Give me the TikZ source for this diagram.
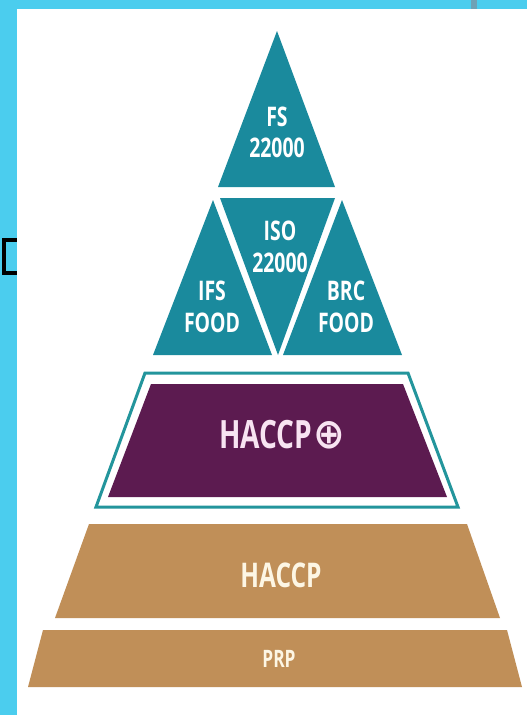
\documentclass[tikz,border=0pt]{standalone}
\usepackage{fontspec}
\setmainfont{Open Sans}
\newfontfamily\symfont{DejaVu Sans}

\definecolor{frameblue}{HTML}{4BCDEE}
\definecolor{tabgray}{HTML}{6FA2B6}
\definecolor{tealfill}{HTML}{1A8A9D}
\definecolor{tealline}{HTML}{23959C}
\definecolor{plum}{HTML}{5C1B50}
\definecolor{sand}{HTML}{C08F58}
\definecolor{pinktext}{HTML}{F8E4F2}
\definecolor{creamtext}{HTML}{FDF6E4}

\newcommand{\narrow}[1]{\scalebox{0.72}[1]{#1}}

\tikzset{
  tier/.style={fill=tealfill, draw=none},
  band/.style={fill=sand, draw=none},
  lbl/.style={anchor=base, inner sep=0pt, text=white},
  tealtxt/.style={lbl, font=\bfseries\fontsize{27}{30}\selectfont},
}

\begin{document}
\begin{tikzpicture}[x=1pt, y=-1pt]
\useasboundingbox (0,0) rectangle (527,715);

% slide frame
\fill[frameblue] (0,0) rectangle (527,715);
\fill[tabgray] (471,0) rectangle (477,9);
\draw[black, line width=4pt] (4,240) rectangle (40,273);
\fill[white] (17,9) rectangle (527,715);

% top triangle
\fill[tier] (277,31) -- (335,187) -- (218,187) -- cycle;
% middle row of triangles
\fill[tier] (213,200) -- (272,355) -- (153,355) -- cycle;
\fill[tier] (220,198) -- (335,198) -- (278,355) -- cycle;
\fill[tier] (342,200) -- (402,355) -- (283,355) -- cycle;

% HACCP plus band with outline
\draw[tealline, line width=3pt, line join=miter]
  (145,373) -- (408,373) -- (458,507) -- (96,507) -- cycle;
\fill[plum] (151,384) -- (403,384) -- (447,497) -- (108,497) -- cycle;

% lower bands
\fill[band] (89,524) -- (467,524) -- (500,618) -- (55,618) -- cycle;
\fill[band] (43,630) -- (507,630) -- (522,687) -- (28,687) -- cycle;

% labels
\node[tealtxt] (fsA) at (277,126) {\narrow{FS}};
\node[tealtxt] (fsB) at (277,157) {\narrow{22000}};
\node[tealtxt] (isoA) at (280,240) {\narrow{ISO}};
\node[tealtxt] (isoB) at (280,272) {\narrow{22000}};
\node[tealtxt] (ifsA) at (212,300) {\narrow{IFS}};
\node[tealtxt] (ifsB) at (212,332) {\narrow{FOOD}};
\node[tealtxt] (brcA) at (346,300) {\narrow{BRC}};
\node[tealtxt] (brcB) at (346,332) {\narrow{FOOD}};

\node[lbl, text=pinktext, font=\bfseries\fontsize{39}{40}\selectfont]
  (hplus) at (282,448)
  {\narrow{HACCP}\kern1pt\scalebox{0.9}[1]{\symfont\fontsize{42}{42}\selectfont ⊕}};
\node[lbl, text=creamtext, font=\bfseries\fontsize{34}{36}\selectfont]
  (haccp) at (281,587) {\narrow{HACCP}};
\node[lbl, text=creamtext, font=\bfseries\fontsize{24}{26}\selectfont]
  (prp) at (279,667) {\narrow{PRP}};
\end{tikzpicture}
\end{document}
